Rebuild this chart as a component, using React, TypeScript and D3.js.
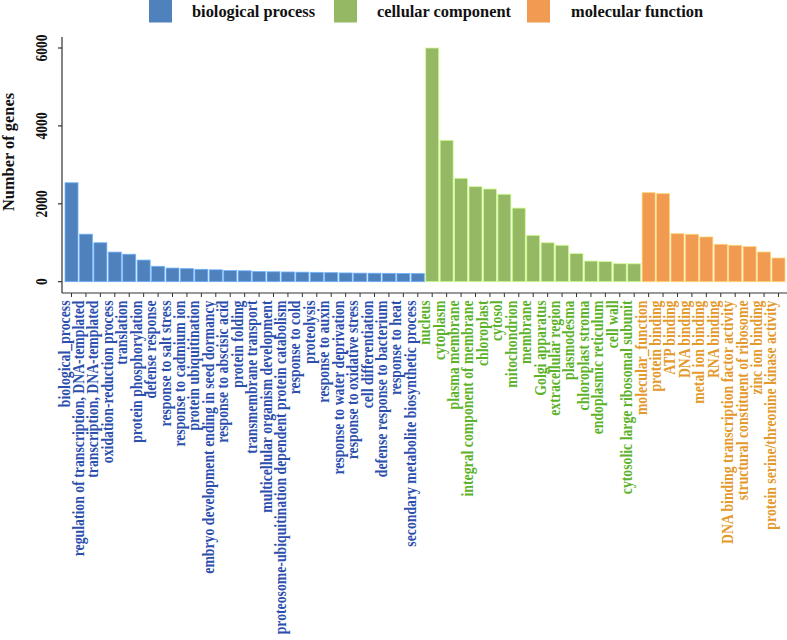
import React from "react";
import * as d3 from "d3";

const bpTerms = [
  "biological_process",
  "regulation of transcription, DNA-templated",
  "transcription, DNA-templated",
  "oxidation-reduction process",
  "translation",
  "protein phosphorylation",
  "defense response",
  "response to salt stress",
  "response to cadmium ion",
  "protein ubiquitination",
  "embryo development ending in seed dormancy",
  "response to abscisic acid",
  "protein folding",
  "transmembrane transport",
  "multicellular organism development",
  "proteosome-ubiquitination dependent protein catabolism",
  "response to cold",
  "proteolysis",
  "response to auxin",
  "response to water deprivation",
  "response to oxidative stress",
  "cell differentiation",
  "defense response to bacterium",
  "response to heat",
  "secondary metabolite biosynthetic process",
];
const bpValues = [2540, 1220, 1000, 760, 705, 555, 395, 350, 335, 318, 305, 285, 280, 262, 255, 250, 245, 240, 232, 225, 220, 218, 215, 212, 208];

const ccTerms = [
  "nucleus",
  "cytoplasm",
  "plasma membrane",
  "integral component of membrane",
  "chloroplast",
  "cytosol",
  "mitochondrion",
  "membrane",
  "Golgi apparatus",
  "extracellular region",
  "plasmodesma",
  "chloroplast stroma",
  "endoplasmic reticulum",
  "cell wall",
  "cytosolic large ribosomal subunit",
];
const ccValues = [6000, 3630, 2655, 2440, 2380, 2245, 1890, 1190, 1000, 935, 720, 530, 515, 462, 460];

const mfTerms = [
  "molecular_function",
  "protein binding",
  "ATP binding",
  "DNA binding",
  "metal ion binding",
  "RNA binding",
  "DNA binding transcription factor activity",
  "structural constituent of ribosome",
  "zinc ion binding",
  "protein serine/threonine kinase activity",
];
const mfValues = [2285, 2260, 1232, 1217, 1148, 960, 934, 900, 762, 608];

const groups = ["biological process", "cellular component", "molecular function"];
const barColors = ["#4F81BD", "#95B865", "#F09A52"];
const textColors = ["#2C4FAE", "#5DB22C", "#E3992B"];
const yTicks = [0, 2000, 4000, 6000];

type Row = { term: string; value: number; g: number; key: string };
const rows: Row[] = [
  ...bpTerms.map((t, i) => ({ term: t, value: bpValues[i], g: 0, key: "bp" + i })),
  ...ccTerms.map((t, i) => ({ term: t, value: ccValues[i], g: 1, key: "cc" + i })),
  ...mfTerms.map((t, i) => ({ term: t, value: mfValues[i], g: 2, key: "mf" + i })),
];

const FONT = "'Liberation Serif', 'Times New Roman', serif";

export default function App() {
  const W = 787;
  const H = 640;
  const axisX = 62;
  const axisY = 293;
  const x = d3
    .scaleBand<string>()
    .domain(rows.map((r) => r.key))
    .range([64.3, 785.7])
    .paddingInner(0.1)
    .paddingOuter(0.05);
  const y = d3.scaleLinear().domain([0, 6000]).range([281.7, 48]);

  const legendItems = [
    { rx: 149, tx: 192 },
    { rx: 334, tx: 377 },
    { rx: 527, tx: 571 },
  ];

  return (
    <svg
      width={W}
      height={H}
      style={{ position: "absolute", left: 0, top: 0, background: "#fff" }}
      fontFamily={FONT}
    >
      {/* legend */}
      {legendItems.map((l, i) => (
        <g key={"lg" + i}>
          <rect x={l.rx} y={0} width={23} height={22.5} fill={barColors[i]} />
          <text x={l.tx} y={16.5} fontSize={16.4} fontWeight="bold" fill="#111">
            {groups[i]}
          </text>
        </g>
      ))}

      {/* bars */}
      {rows.map((r) => {
        const c = barColors[r.g];
        const stroke = d3.color(c)!.brighter(0.9).formatHex();
        return (
          <rect
            key={r.key}
            x={x(r.key)!}
            y={y(r.value)}
            width={x.bandwidth()}
            height={y(0) - y(r.value)}
            fill={c}
            stroke={stroke}
            strokeWidth={0.8}
          />
        );
      })}

      {/* y axis */}
      <line x1={axisX} x2={axisX} y1={37} y2={axisY} stroke="#333" strokeWidth={1.2} />
      {yTicks.map((t) => (
        <g key={"yt" + t}>
          <line x1={axisX - 4} x2={axisX} y1={y(t)} y2={y(t)} stroke="#333" strokeWidth={1.2} />
          <g transform={`translate(46.5, ${y(t)}) rotate(-90) scale(0.8, 1)`}>
            <text textAnchor="middle" fontSize={17} fontWeight="bold" fill="#111">
              {t}
            </text>
          </g>
        </g>
      ))}
      <text
        transform={`translate(14, 152) rotate(-90)`}
        textAnchor="middle"
        fontSize={16.4}
        fontWeight="bold"
        fill="#111"
      >
        Number of genes
      </text>

      {/* x axis */}
      <line x1={axisX} x2={W} y1={axisY} y2={axisY} stroke="#333" strokeWidth={1.2} />
      {rows.map((r) => {
        const cx = x(r.key)! + x.bandwidth() / 2;
        return (
          <g key={"xt" + r.key}>
            <line x1={cx} x2={cx} y1={axisY} y2={axisY + 4} stroke="#333" strokeWidth={1} />
            <g transform={`translate(${cx - 2}, 300.5) rotate(-90) scale(0.81, 1)`}>
              <text textAnchor="end" fontSize={17} fontWeight="bold" fill={textColors[r.g]}>
                {r.term}
              </text>
            </g>
          </g>
        );
      })}
    </svg>
  );
}
